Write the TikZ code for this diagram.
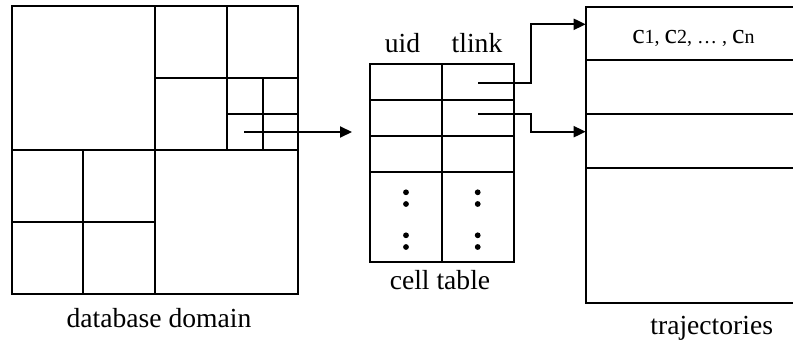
\documentclass[tikz,border=0pt]{standalone}
\usepackage{fontspec}
\setmainfont{Liberation Serif}
\usetikzlibrary{arrows.meta}
\newcommand\trc[1]{{\fontsize{14}{16}\selectfont c}#1}
\begin{document}
\begin{tikzpicture}[x=0.5pt,y=-0.5pt, line width=1pt,
  lbl/.style={font=\fontsize{13.8}{16}\selectfont, anchor=base, inner sep=0},
  arr/.style={-{Triangle[length=6pt,width=5.5pt]}},
  dotm/.style={circle,fill,inner sep=0,minimum size=2.9pt}]
\useasboundingbox (0,0) rectangle (793,342);
% database domain (quadtree)
\draw (12,6) rectangle (298,294);
\draw (155,6) -- (155,294);
\draw (12,150) -- (298,150);
\draw (227,6) -- (227,150);
\draw (155,78) -- (298,78);
\draw (262.7,78) -- (262.7,150);
\draw (227,114.3) -- (298,114.3);
\draw (83,150) -- (83,294);
\draw (12,222) -- (155,222);
\node[lbl] (dbl) at (159,327) {database domain};
\coordinate (qs) at (244,132);
\coordinate (qe) at (352,132);
\draw[arr] (qs) -- (qe);
% cell table
\draw (370,64.3) rectangle (513.7,262.3);
\draw (441.7,64.3) -- (441.7,262.3);
\foreach \yy in {100,136,172.3} \draw (370,\yy) -- (513.7,\yy);
\node[lbl] (uid) at (402.5,53) {uid};
\node[lbl] (tlink) at (477,53) {tlink};
\node[lbl] (ctl) at (440,289) {cell table};
\foreach \xx/\nm in {406/u,477.7/t}{
  \node[dotm] (\nm1) at (\xx,192.3) {};
  \node[dotm] (\nm2) at (\xx,204) {};
  \node[dotm] (\nm3) at (\xx,235.3) {};
  \node[dotm] (\nm4) at (\xx,247) {};
}
% trajectories
\draw (793,6.7) -- (585.7,6.7) -- (585.7,302.7) -- (793,302.7);
\foreach \yy in {60.3,114.3,168.3} \draw (585.7,\yy) -- (793,\yy);
\coordinate (tr1) at (585.7,24.3);
\coordinate (tr2) at (585.7,131.7);
\node[lbl] (trl) at (711.7,334) {trajectories};
\node[anchor=base, inner sep=0, font=\fontsize{10}{12}\selectfont] (cn) at (693.4,43.3)
  {\trc{1}, \trc{2}, … , \trc{n}};
% links
\coordinate (l1) at (478,83);
\coordinate (l2) at (478,114.3);
\draw[arr] (l1) -- (531,83) |- (tr1);
\draw[arr] (l2) -- (531,114.3) |- (tr2);
\end{tikzpicture}
\end{document}
